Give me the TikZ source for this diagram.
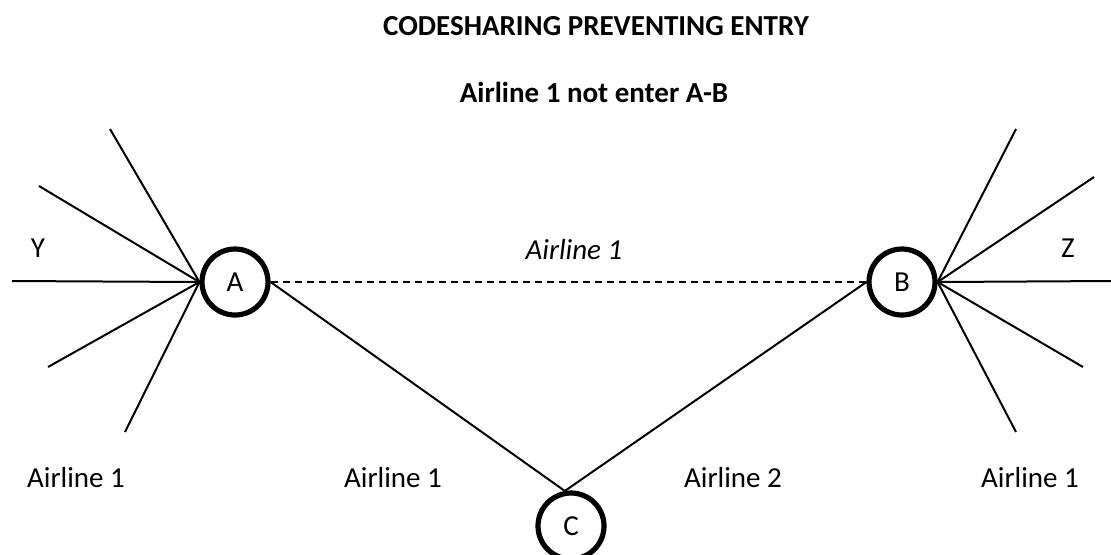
\documentclass[tikz,border=0pt]{standalone}
\usepackage{fontspec}
\setmainfont{Carlito}
\begin{document}
\begin{tikzpicture}[x=0.5pt,y=-0.5pt,
  hub/.style={draw,circle,line width=2.6pt,minimum size=33pt,inner sep=0pt,
              font=\fontsize{14.5}{17}\selectfont},
  lbl/.style={font=\fontsize{14.5}{17}\selectfont,inner sep=0pt},
  ttl/.style={font=\fontsize{14.5}{17}\selectfont\bfseries,inner sep=0pt},
  route/.style={line width=1pt},
  blocked/.style={line width=1pt,dash pattern=on 3.5pt off 2.5pt}]
\useasboundingbox (0,0) rectangle (1111,554);

% titles
\node[ttl,anchor=base] (title) at (596,35) {CODESHARING PREVENTING ENTRY};
\node[ttl,anchor=base] (sub) at (594,102) {Airline 1 not enter A-B};

% airports
\node[hub] (A) at (235,282) {A};
\node[hub] (B) at (902,282) {B};
\node[hub] (C) at (571,526) {C};

% spokes beyond A and B
\coordinate (a1) at (110,129);
\coordinate (a2) at (39,186);
\coordinate (a3) at (12,281);
\coordinate (a4) at (48,367);
\coordinate (a5) at (125,432);
\coordinate (b1) at (1016,129);
\coordinate (b2) at (1094,177);
\coordinate (b3) at (1111,281);
\coordinate (b4) at (1083,367);
\coordinate (b5) at (1016,432);
\foreach \p in {a1,a2,a3,a4,a5} \draw[route] (A.west) -- (\p);
\foreach \p in {b1,b2,b3,b4,b5} \draw[route] (B.east) -- (\p);

% routes between the airports
\draw[blocked] (A.east) -- (B.west);
\draw[route] (A.east) -- (C.100);
\draw[route] (B.west) -- (C.100);

% labels
\node[lbl] (Y) at (38,248) {Y};
\node[lbl] (Z) at (1068,248) {Z};
\node[lbl,font=\fontsize{14.5}{17}\selectfont\itshape] (ab) at (574,250) {Airline 1};
\node[lbl] (l1) at (76,478) {Airline 1};
\node[lbl] (l2) at (393,478) {Airline 1};
\node[lbl] (l3) at (733,478) {Airline 2};
\node[lbl] (l4) at (1030,478) {Airline 1};
\end{tikzpicture}
\end{document}
